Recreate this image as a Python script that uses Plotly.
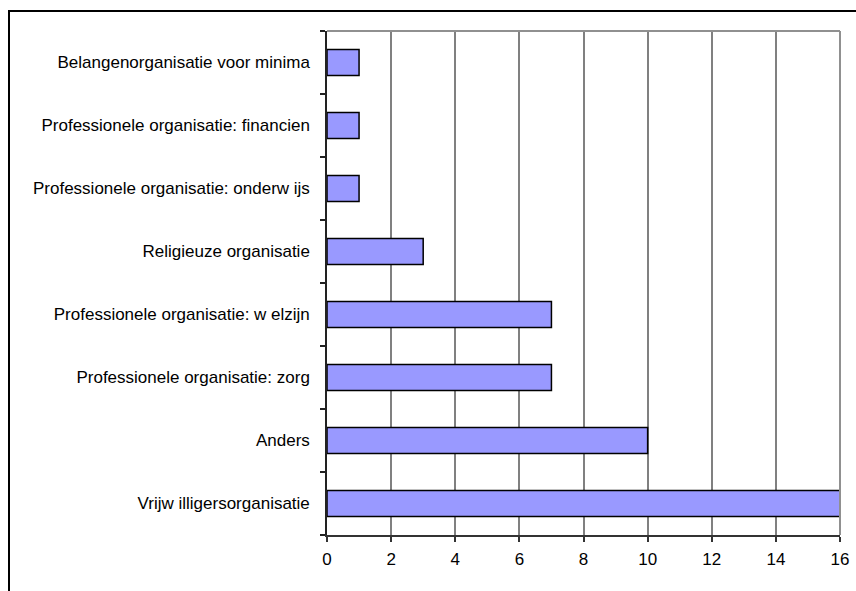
import plotly.graph_objects as go

categories = [
    "Vrijw illigersorganisatie",
    "Anders",
    "Professionele organisatie: zorg",
    "Professionele organisatie: w elzijn",
    "Religieuze organisatie",
    "Professionele organisatie: onderw ijs",
    "Professionele organisatie: financien",
    "Belangenorganisatie voor minima",
]
values = [16, 10, 7, 7, 3, 1, 1, 1]
x_ticks = [0, 2, 4, 6, 8, 10, 12, 14, 16]

L, R, T, B = 327, 16, 31, 56
W, H = 856, 591
pw, ph = W - L - R, H - T - B

fig = go.Figure(go.Bar(
    x=values,
    y=list(range(len(categories))),
    orientation="h",
    marker=dict(color="#9999FF", line=dict(color="black", width=1.5)),
    width=0.41,
))

font = dict(family="Liberation Sans, Arial, sans-serif", size=17, color="black")

fig.update_layout(
    width=W, height=H,
    margin=dict(l=L, r=R, t=T, b=B, pad=0, autoexpand=False),
    paper_bgcolor="white", plot_bgcolor="white",
    showlegend=False,
    font=font,
    xaxis=dict(
        range=[0, 16], tickvals=x_ticks, ticktext=[str(v) for v in x_ticks],
        showgrid=True, gridcolor="#808080", gridwidth=1.5,
        showline=True, linecolor="#333333", linewidth=1.5,
        ticks="outside", ticklen=5, tickcolor="#333333", tickwidth=1.5,
        tickfont=font, zeroline=False, fixedrange=True, automargin=False,
        ticklabelstandoff=3,
    ),
    yaxis=dict(
        range=[-0.5, len(categories) - 0.5],
        tickvals=list(range(len(categories))), ticktext=categories,
        ticks="", ticklen=0, showgrid=False, zeroline=False,
        showline=True, linecolor="#222222", linewidth=1.5,
        tickfont=font, ticklabelstandoff=12, automargin=False,
        minor=dict(tick0=0.5, dtick=1, ticks="outside", ticklen=5,
                   tickcolor="#222222", tickwidth=1.5, showgrid=False),
    ),
    shapes=[
        dict(type="line", xref="paper", yref="paper", x0=0, x1=1, y0=1, y1=1,
             line=dict(color="#909090", width=2)),
        dict(type="line", xref="paper", yref="paper", x0=1, x1=1, y0=0, y1=1,
             line=dict(color="#909090", width=2)),
        dict(type="rect", xref="paper", yref="paper",
             x0=(9 - L) / pw, x1=(W + 5 - L) / pw,
             y0=(H - B - (H + 5)) / ph, y1=(H - B - 11) / ph,
             line=dict(color="black", width=2), layer="below"),
    ],
)

fig.write_html("out.html", config={"displayModeBar": False},
               post_script="document.body.style.margin='0';document.body.style.overflow='hidden';")
